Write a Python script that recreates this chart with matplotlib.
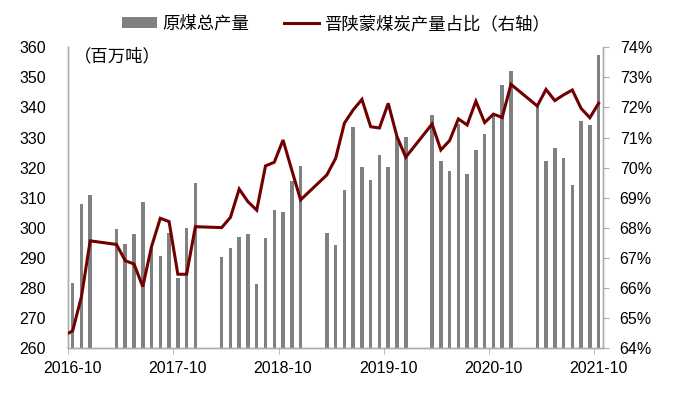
import matplotlib
matplotlib.use("Agg")
import matplotlib.pyplot as plt
from matplotlib.patches import Patch
from matplotlib.lines import Line2D

# 中文字体 + 英文数字字体
plt.rcParams['font.family'] = ['Liberation Sans', 'Noto Sans CJK SC']

# 原煤总产量 (百万吨)，1-2 月合并公布，故缺
bar_months = ['2016-10', '2016-11', '2016-12',
              '2017-03', '2017-04', '2017-05', '2017-06', '2017-07', '2017-08', '2017-09', '2017-10', '2017-11', '2017-12',
              '2018-03', '2018-04', '2018-05', '2018-06', '2018-07', '2018-08', '2018-09', '2018-10', '2018-11', '2018-12',
              '2019-03', '2019-04', '2019-05', '2019-06', '2019-07', '2019-08', '2019-09', '2019-10', '2019-11', '2019-12',
              '2020-03', '2020-04', '2020-05', '2020-06', '2020-07', '2020-08', '2020-09', '2020-10', '2020-11', '2020-12',
              '2021-03', '2021-04', '2021-05', '2021-06', '2021-07', '2021-08', '2021-09', '2021-10']
coal_output = [281.8, 308.0, 311.0,
               299.7, 294.5, 297.9, 308.5, 294.0, 290.8, 298.2, 283.5, 300.0, 314.9,
               290.2, 293.2, 297.0, 298.0, 281.5, 296.5, 306.0, 305.2, 315.5, 320.5,
               298.3, 294.2, 312.5, 333.4, 320.1, 316.0, 324.1, 320.1, 330.2, 330.1,
               337.4, 322.2, 318.9, 334.5, 318.0, 325.9, 331.1, 337.2, 347.5, 352.1,
               340.5, 322.3, 326.4, 323.2, 314.1, 335.4, 334.2, 357.3]

# 晋陕蒙煤炭产量占比 (%)
line_months = ['2016-09'] + bar_months
share = [64.42, 64.58, 65.71, 67.57,
         67.45, 66.91, 66.80, 66.05, 67.38, 68.32, 68.21, 66.46, 66.46, 68.04,
         68.01, 68.35, 69.29, 68.87, 68.59, 70.06, 70.18, 70.92, 69.92, 68.93,
         69.76, 70.31, 71.48, 71.92, 72.27, 71.36, 71.32, 72.14, 71.03, 70.35,
         71.45, 70.59, 70.90, 71.62, 71.42, 72.21, 71.50, 71.78, 71.67, 72.77,
         72.05, 72.60, 72.23, 72.42, 72.58, 71.97, 71.66, 72.14]

tick_labels = ['2016-10', '2017-10', '2018-10', '2019-10', '2020-10', '2021-10']


def month_index(m):
    # 以 2016-10 为 0 的月份序号
    y, mo = m.split('-')
    return (int(y) - 2016) * 12 + int(mo) - 10


BAR_COLOR = '#808080'
LINE_COLOR = '#720000'
AXIS_COLOR = '#ADADAD'
FS = 11.5      # 数字
FS_CN = 12.5   # 中文

W, H = 681, 397
fig = plt.figure(figsize=(W / 100, H / 100), dpi=100)
ax = fig.add_axes([68 / W, 1 - 348.3 / H, (603 - 68) / W, (348.3 - 47.3) / H])
ax2 = ax.twinx()

# 柱状图 (左轴)
bx = [month_index(m) for m in bar_months]
ax.bar(bx, coal_output, width=0.4, color=BAR_COLOR, zorder=2)
ax.set_ylim(260, 360)
ax.set_yticks(range(260, 361, 10))
ax.set_xlim(-0.53, 60.5)
# 标签居中于月份，刻度线在月份左边界
ax.set_xticks([month_index(t) for t in tick_labels])
ax.set_xticklabels(tick_labels)
ax.set_xticks([month_index(t) - 0.5 for t in tick_labels], minor=True)

# 折线 (右轴)
lx = [month_index(m) for m in line_months]
ax2.plot(lx, share, color=LINE_COLOR, lw=2.2, solid_joinstyle='miter', zorder=3)
ax2.set_ylim(64, 74)
ax2.set_yticks(range(64, 75))
ax2.set_yticklabels([f'{v}%' for v in range(64, 75)])

for a in (ax, ax2):
    for s in a.spines.values():
        s.set_color(AXIS_COLOR)
        s.set_linewidth(1.0)
    a.spines['top'].set_visible(False)

ax.tick_params(axis='y', length=0, pad=16, labelsize=FS)
ax.tick_params(axis='x', which='major', length=0, pad=9.5, labelsize=FS)
ax.tick_params(axis='x', which='minor', length=4, color=AXIS_COLOR)
ax2.tick_params(axis='y', length=4, color=AXIS_COLOR, pad=8, labelsize=FS)

# 单位
fig.text(74 / W, 1 - 55.5 / H, '（百万吨）', fontsize=FS_CN, va='center', ha='left')

# 图例
handles = [Patch(facecolor=BAR_COLOR, edgecolor='none'),
           Line2D([0], [0], color=LINE_COLOR, lw=2.2)]
fig.legend(handles, ['原煤总产量', '晋陕蒙煤炭产量占比（右轴）'],
           loc='center', bbox_to_anchor=(336.5 / W, 1 - 23.5 / H), ncol=2,
           frameon=False, fontsize=FS_CN, handlelength=2.0, handleheight=0.6,
           handletextpad=0.35, columnspacing=2.0)

fig.savefig('out.png', dpi=100, facecolor='white')
